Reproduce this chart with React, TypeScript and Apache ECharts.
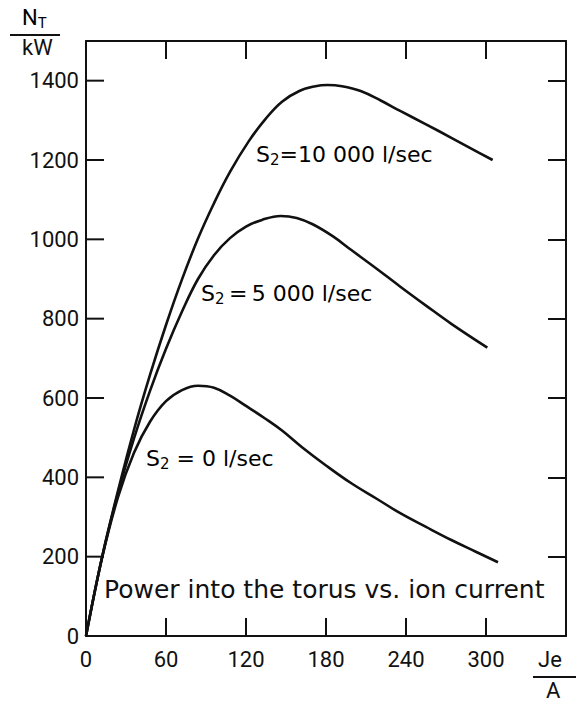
import React, { useEffect, useRef } from "react";
import * as echarts from "echarts";

// Ion current Je (A) vs power into torus N_T (kW)
const curveS2_10000: [number, number][] = [
  [0, 0], [12, 198], [24, 366], [36, 520], [48, 658], [60, 784], [72, 899], [84, 1002],
  [96, 1091], [108, 1170], [122, 1247], [135, 1305], [147, 1347], [160, 1374], [172, 1386],
  [181, 1389], [192, 1386], [206, 1374], [221, 1350], [236, 1323], [255, 1290], [274, 1256],
  [290, 1227], [305, 1200],
];
const curveS2_5000: [number, number][] = [
  [0, 0], [12, 198], [24, 360], [36, 498], [48, 618], [60, 724], [72, 818], [84, 900],
  [96, 960], [108, 1003], [120, 1032], [132, 1049], [146, 1059], [158, 1054], [170, 1038],
  [185, 1008], [199, 973], [218, 926], [236, 880], [255, 833], [274, 787], [301, 727],
];
const curveS2_0: [number, number][] = [
  [0, 0], [12, 196], [24, 350], [36, 462], [48, 540], [60, 592], [72, 620], [84, 631],
  [96, 626], [108, 606], [120, 580], [134, 549], [147, 518], [162, 476], [180, 430],
  [199, 385], [218, 346], [236, 309], [255, 275], [274, 242], [292, 213], [309, 186],
];

const X_MAX = 360;
const Y_MAX = 1500;
const xTickValues = [60, 120, 180, 240, 300];
const yTickValues = [200, 400, 600, 800, 1000, 1200, 1400];
const seriesLabels = ["=10 000 l/sec", "\u2009=\u20095 000 l/sec", " = 0 l/sec"];
const chartTitle = "Power into the torus vs. ion current";

const INK = "#111";
const FONT = "Roboto";
const TFONT = "DejaVu Sans";
const TICK_LEN = 18;

export default function App() {
  const ref = useRef<HTMLDivElement>(null);
  useEffect(() => {
    if (!ref.current) return;
    const chart = echarts.init(ref.current, undefined, { renderer: "svg" });
    const tick = { show: true, inside: true, length: TICK_LEN, lineStyle: { color: INK, width: 2 } };
    const noTick = { show: false };
    const axisLine = { show: true, onZero: false, lineStyle: { color: INK, width: 2 } };
    const rich = {
      a: { fontSize: 22, fontFamily: TFONT, color: INK },
      b: { fontSize: 15, fontFamily: TFONT, color: INK, padding: [12, 0, 0, 0] },
    };
    const richAxis = {
      a: { fontSize: 22, fontFamily: FONT, color: INK },
      b: { fontSize: 15, fontFamily: FONT, color: INK, padding: [12, 0, 0, 0] },
    };
    const line = (data: [number, number][]) => ({
      type: "line",
      data,
      smooth: 0.4,
      showSymbol: false,
      lineStyle: { color: INK, width: 2.6 },
      xAxisIndex: 0,
      yAxisIndex: 0,
    });
    const fmtX = (v: number) => (v >= X_MAX ? "" : String(v));
    const fmtY = (v: number) => (v >= Y_MAX ? "" : String(v));
    const xBase = { type: "value", min: 0, max: X_MAX, interval: 60, splitLine: { show: false } };
    const yBase = { type: "value", min: 0, max: Y_MAX, interval: 200, splitLine: { show: false } };
    chart.setOption({
      animation: false,
      backgroundColor: "#fff",
      grid: { left: 86, top: 41, width: 480, height: 595 },
      xAxis: [
        { ...xBase, position: "top", axisLine, axisTick: tick, axisLabel: { show: false } },
        {
          ...xBase, position: "bottom", axisLine, axisTick: noTick,
          axisLabel: { formatter: fmtX, color: INK, fontSize: 22, fontFamily: FONT, margin: 12 },
        },
      ],
      yAxis: [
        { ...yBase, position: "right", axisLine, axisTick: tick, axisLabel: { show: false } },
        {
          ...yBase, position: "left", axisLine, axisTick: noTick,
          axisLabel: { formatter: fmtY, color: INK, fontSize: 22, fontFamily: FONT, margin: 7 },
        },
      ],
      series: [line(curveS2_10000), line(curveS2_5000), line(curveS2_0)],
    });

    // inward ticks on the bottom and left axes, positioned through the chart's own scales
    const finder = { xAxisIndex: 0, yAxisIndex: 0 };
    const tickGraphics: any[] = [];
    xTickValues.forEach((v) => {
      const p = chart.convertToPixel(finder, [v, 0]) as number[];
      if (p) {
        tickGraphics.push({
          type: "line", z: 10,
          shape: { x1: p[0], y1: p[1], x2: p[0], y2: p[1] - TICK_LEN },
          style: { stroke: INK, lineWidth: 2 },
        });
      }
    });
    yTickValues.forEach((v) => {
      const p = chart.convertToPixel(finder, [0, v]) as number[];
      if (p) {
        tickGraphics.push({
          type: "line", z: 10,
          shape: { x1: p[0], y1: p[1], x2: p[0] + TICK_LEN, y2: p[1] },
          style: { stroke: INK, lineWidth: 2 },
        });
      }
    });

    chart.setOption({
      graphic: [
        ...tickGraphics,
        { type: "text", left: 22, top: 6, style: { text: "{a|N}{b|T}", rich: richAxis } },
        { type: "line", shape: { x1: 10, y1: 35, x2: 60, y2: 35 }, style: { stroke: INK, lineWidth: 2 } },
        { type: "text", left: 22, top: 36, style: { text: "kW", font: `22px ${FONT}`, fill: INK } },
        { type: "text", left: 538, top: 648, style: { text: "Je", font: `22px ${FONT}`, fill: INK } },
        { type: "line", shape: { x1: 533, y1: 677, x2: 576, y2: 677 }, style: { stroke: INK, lineWidth: 2 } },
        { type: "text", left: 546, top: 679, style: { text: "A", font: `22px ${FONT}`, fill: INK } },
        { type: "text", left: 256, top: 143, style: { text: `{a|S}{b|2}{a|${seriesLabels[0]}}`, rich } },
        { type: "text", left: 201, top: 282, style: { text: `{a|S}{b|2}{a|${seriesLabels[1]}}`, rich } },
        { type: "text", left: 146, top: 447, style: { text: `{a|S}{b|2}{a|${seriesLabels[2]}}`, rich } },
        { type: "text", left: 104, top: 577, style: { text: chartTitle, font: `25px ${TFONT}`, fill: INK } },
      ],
    });
    return () => chart.dispose();
  }, []);
  return (
    <div
      ref={ref}
      style={{ position: "fixed", left: 0, top: 0, width: 585, height: 703, background: "#fff" }}
    />
  );
}
